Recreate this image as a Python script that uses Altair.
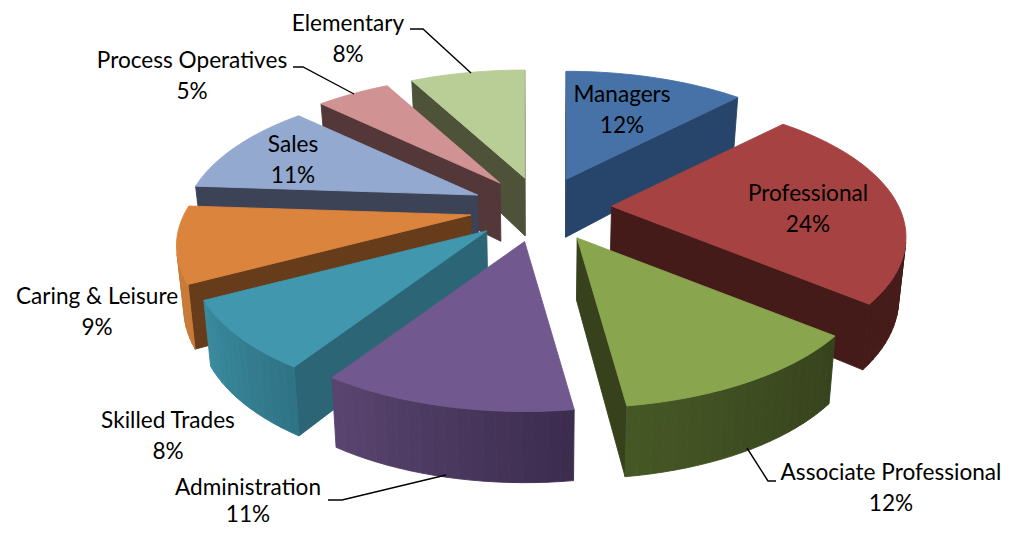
import math
import altair as alt
import pandas as pd

categories = ["Managers", "Professional", "Associate Professional", "Administration",
              "Skilled Trades", "Caring & Leisure", "Sales", "Process Operatives", "Elementary"]
percent_labels = [12, 24, 12, 11, 8, 9, 11, 5, 8]
shares = [12.2, 23.8, 11.85, 11.34, 8.0, 8.9, 11.11, 5.0, 7.8]
top_colors = ["#4672A8", "#A64342", "#89A54E", "#71588F", "#4097AE", "#DB843D", "#93A9CF", "#D09292", "#B9CD96"]
radial_colors = ["#27446A", "#451B19", "#37421C", "#3B2C4E", "#2C6576", "#663C1A", "#3C4356", "#543738", "#4D5239"]
outer_from = ["#27446A", "#451B19", "#37421C", "#3B2C4E", "#2F7385", "#C87A38", "#3C4356", "#543738", "#4D5239"]
outer_to = ["#27446A", "#451B19", "#465826", "#5A4570", "#3A8B9F", "#C87A38", "#3C4356", "#543738", "#4D5239"]
label_x = [622, 808, 891, 248, 168, 97, 293, 192, 348]
label_y = [95, 194, 473, 488, 421, 297, 145, 61, 24]
line_gap = [30.5, 30.5, 30.5, 26.5, 30.5, 30.5, 30.5, 30.5, 30.5]
leaders = {
    "Elementary": [(410, 29), (423, 29), (471, 73)],
    "Process Operatives": [(293, 67), (303, 67), (354, 94)],
    "Administration": [(328, 500), (342, 500), (446, 475)],
    "Associate Professional": [(776, 481), (768, 481), (747, 448)],
}

# Projection of the tilted disc
CX, CY, A, B, K, EXPLODE, STEP = 541, 208, 287, 132, 0.223, 0.247, 2.0


def proj(X, Z):
    d = 1 + K * Z
    return A * X / d, -B * Z / d


def mix(c1, c2, t):
    a = [int(c1[i:i + 2], 16) for i in (1, 3, 5)]
    b = [int(c2[i:i + 2], 16) for i in (1, 3, 5)]
    return "#%02x%02x%02x" % tuple(round(u + (v - u) * t) for u, v in zip(a, b))


def below(pt, Z):
    return CX + (pt[0] - CX) * 0.98, pt[1] + 60 - 9 * Z


rows, pid = [], 0


def add(poly, color):
    global pid
    for i, (x, y) in enumerate(poly + poly[:1]):
        rows.append({"poly": pid, "i": i, "x": x, "y": y, "c": color})
    pid += 1


slices, cum = [], 0
for idx, s in enumerate(shares):
    t0, t1 = cum * 3.6, (cum + s) * 3.6
    cum += s
    mid = math.radians((t0 + t1) / 2)
    ax, az = EXPLODE * math.sin(mid), EXPLODE * math.cos(mid)
    dx, dy = proj(ax, az)
    slices.append((CY + dy, idx, t0, t1, (CX + dx, CY + dy), az))

for _, idx, t0, t1, apex, az in sorted(slices):
    n = max(2, int((t1 - t0) / STEP))
    rim, zs = [], []
    for j in range(n + 1):
        th = math.radians(t0 + (t1 - t0) * j / n)
        dx, dy = proj(math.sin(th), math.cos(th))
        rim.append((apex[0] + dx, apex[1] + dy))
        zs.append(az + math.cos(th))

    def wall(p, zp, q, zq, color):
        quad = [p, q, below(q, zq), below(p, zp)]
        area = sum(quad[i][0] * quad[(i + 1) % 4][1] - quad[(i + 1) % 4][0] * quad[i][1] for i in range(4))
        if area < 0:
            add(quad, color)

    wall(apex, az, rim[0], zs[0], radial_colors[idx])
    wall(rim[-1], zs[-1], apex, az, radial_colors[idx])
    for j in range(n):
        wall(rim[j], zs[j], rim[j + 1], zs[j + 1], mix(outer_from[idx], outer_to[idx], (j + 0.5) / n))
    add([apex] + rim, top_colors[idx])

df = pd.DataFrame(rows)
xs = alt.Scale(domain=[8, 1003], nice=False, zero=False)
ys = alt.Scale(domain=[8, 526], nice=False, zero=False, reverse=True)
X = alt.X("x:Q", scale=xs, axis=None)
Y = alt.Y("y:Q", scale=ys, axis=None)

polys = alt.Chart(df).mark_line(strokeWidth=0.9).encode(
    x=X, y=Y, order="i:Q", detail="poly:Q",
    color=alt.Color("c:N", scale=None), fill=alt.Fill("c:N", scale=None))

lead_rows = [{"k": k, "i": i, "x": p[0], "y": p[1]} for k, v in leaders.items() for i, p in enumerate(v)]
lead = alt.Chart(pd.DataFrame(lead_rows)).mark_line(color="#000000", strokeWidth=1.4).encode(
    x=X, y=Y, order="i:Q", detail="k:N")

text_rows = []
for c, s, lx, ly, g in zip(categories, percent_labels, label_x, label_y, line_gap):
    text_rows.append({"x": lx, "y": ly, "t": c})
    text_rows.append({"x": lx, "y": ly + g, "t": f"{s}%"})
text = alt.Chart(pd.DataFrame(text_rows)).mark_text(
    font="Lato", fontSize=22.6, color="#000000", align="center", baseline="middle").encode(x=X, y=Y, text="t:N")

chart = alt.layer(polys, lead, text).properties(
    width=995, height=518, padding=0, autosize=alt.AutoSizeParams(type="none")
).configure_view(stroke=None)
chart.save("out.html", embed_options={"renderer": "svg", "actions": False})
